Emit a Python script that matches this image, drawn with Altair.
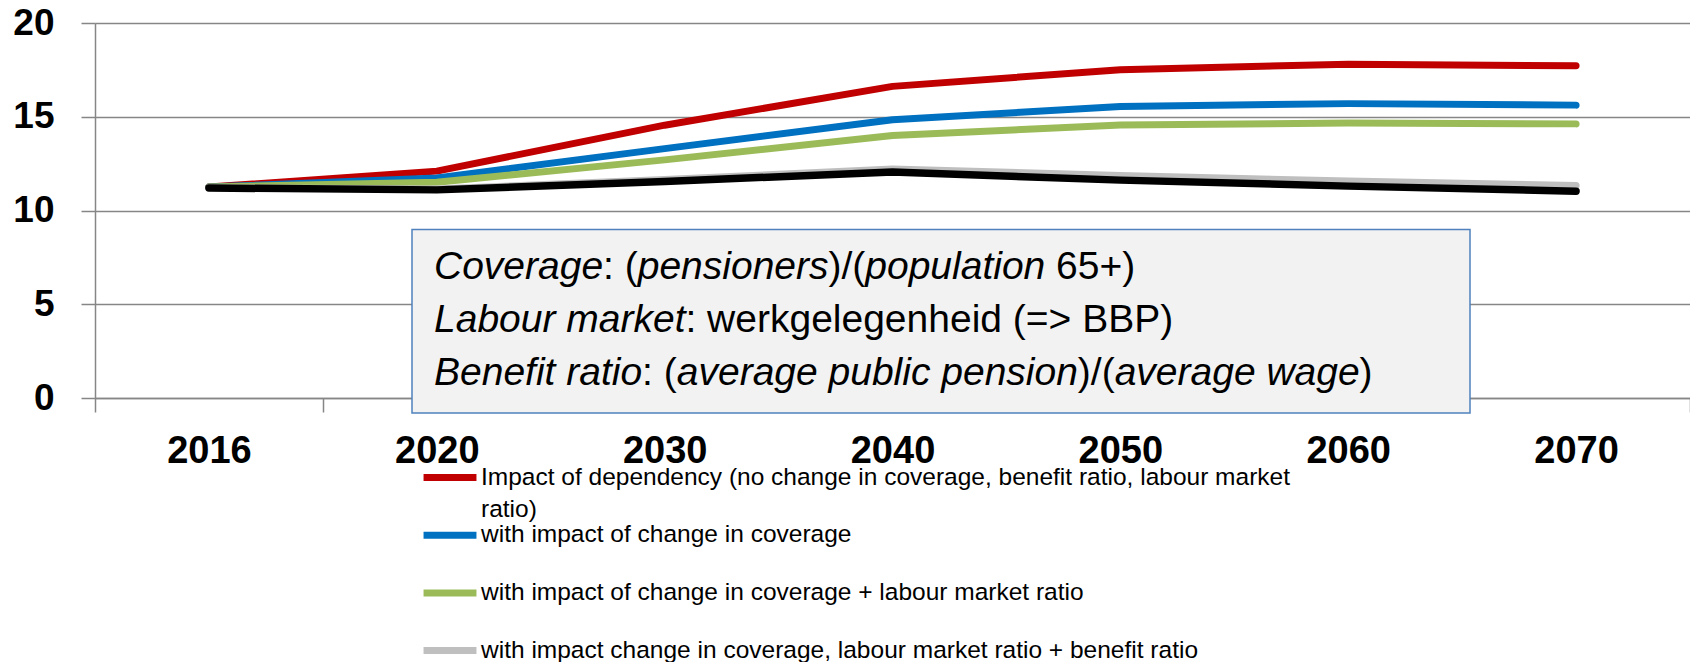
import altair as alt
import pandas as pd

# ---------------- data ----------------
years = ["2016", "2020", "2030", "2040", "2050", "2060", "2070"]

series_names = [
    "Impact of dependency (no change in coverage, benefit ratio, labour market",
    "with impact of change in coverage",
    "with impact of change in coverage + labour market ratio",
    "with impact change in coverage, labour market ratio + benefit ratio",
]
label_continuation = "ratio)"

red_vals = [11.25, 12.10, 14.55, 16.62, 17.51, 17.80, 17.72]
blue_vals = [11.25, 11.74, 13.30, 14.84, 15.55, 15.70, 15.62]
green_vals = [11.25, 11.51, 12.70, 14.00, 14.56, 14.67, 14.62]
grey_vals = [11.22, 11.15, 11.65, 12.22, 11.87, 11.57, 11.33]
black_vals = [11.20, 11.10, 11.55, 12.05, 11.62, 11.30, 11.03]

y_ticks = [0, 5, 10, 15, 20]

series_colors = ["#C00000", "#0070C0", "#9BBB59", "#BFBFBF"]
series_widths = [7, 7, 7, 4]

note_lines = [
    [("Coverage", True), (": (", False), ("pensioners", True), (")/(", False),
     ("population", True), (" 65+)", False)],
    [("Labour market", True), (": werkgelegenheid (=> BBP)", False)],
    [("Benefit ratio", True), (": (", False), ("average public pension", True),
     (")/(", False), ("average wage", True), (")", False)],
]

# ---------------- tables ----------------
rows = []
for name, vals in zip(series_names, [red_vals, blue_vals, green_vals, grey_vals]):
    for yr, v in zip(years, vals):
        rows.append({"year": yr, "value": v, "series": name})
df = pd.DataFrame(rows)
df_black = pd.DataFrame({"year": years, "value": black_vals})

FONT = "Liberation Sans"
GRID = "#868686"

# Arial / Liberation Sans advance widths (1/1000 em) for laying out mixed-style text
W = {' ': 278, '(': 333, ')': 333, '+': 584, ',': 278, '/': 278, ':': 278,
     '=': 584, '>': 584, '<': 584}
for d in "0123456789":
    W[d] = 556
W.update({'A': 667, 'B': 667, 'C': 722, 'D': 722, 'E': 667, 'F': 611, 'G': 778,
          'H': 722, 'I': 278, 'L': 556, 'M': 833, 'P': 667, 'R': 722, 'S': 667,
          'a': 556, 'b': 556, 'c': 500, 'd': 556, 'e': 556, 'f': 278, 'g': 556,
          'h': 556, 'i': 222, 'j': 222, 'k': 500, 'l': 222, 'm': 833, 'n': 556,
          'o': 556, 'p': 556, 'q': 556, 'r': 333, 's': 500, 't': 278, 'u': 556,
          'v': 500, 'w': 722, 'x': 500, 'y': 500, 'z': 500})


def text_width(s, size):
    return sum(W.get(ch, 556) for ch in s) * size / 1000.0


x_enc = alt.X(
    "year:O", sort=years,
    scale=alt.Scale(type="band", paddingInner=0, paddingOuter=0),
    axis=alt.Axis(title=None, labelAngle=0, labelFont=FONT, labelFontWeight="bold",
                  labelFontSize=38, labelColor="black", labelPadding=20,
                  tickSize=14, tickColor=GRID, tickWidth=1.5, tickBand="extent",
                  domainColor=GRID, domainWidth=1.5, grid=False),
)
y_enc = alt.Y(
    "value:Q",
    scale=alt.Scale(domain=[0, 20], nice=False, zero=True),
    axis=alt.Axis(title=None, values=y_ticks, labelFont=FONT, labelFontWeight="bold",
                  labelFontSize=37, labelColor="black", labelPadding=27,
                  tickSize=14, tickColor=GRID, tickWidth=1.5,
                  domainColor=GRID, domainWidth=1.5,
                  grid=True, gridColor=GRID, gridWidth=1.5),
)

legend = alt.Legend(
    title=None, orient="none", legendX=325, legendY=424.5, direction="vertical",
    symbolType="stroke", symbolSize=2800, symbolStrokeWidth=7,
    labelFont=FONT, labelFontSize=24.5, labelColor="black", labelLimit=1200,
    labelOffset=1, rowPadding=13.7, padding=0,
)

lines = alt.Chart(df).mark_line(strokeCap="round", strokeJoin="round").encode(
    x=x_enc,
    y=y_enc,
    color=alt.Color("series:N", sort=series_names,
                    scale=alt.Scale(domain=series_names, range=series_colors),
                    legend=legend),
    strokeWidth=alt.StrokeWidth("series:N", sort=series_names,
                                scale=alt.Scale(domain=series_names, range=series_widths),
                                legend=legend),
    order=alt.Order("year:O"),
)

black_line = alt.Chart(df_black).mark_line(
    strokeCap="round", strokeJoin="round", strokeWidth=7.5, color="black"
).encode(x=x_enc, y=y_enc)

box = alt.Chart(pd.DataFrame({"k": [0]})).mark_rect(
    fill="#F2F2F2", stroke="#4F81BD", strokeWidth=1.5
).encode(x=alt.value(317), x2=alt.value(1375), y=alt.value(206.5), y2=alt.value(390))

layers = [lines, black_line, box]

NOTE_SIZE = 39
x0 = 339
baselines = [255.5, 308.5, 361.5]
for segs, by in zip(note_lines, baselines):
    cursor = x0
    for txt, ital in segs:
        lead = len(txt) - len(txt.lstrip(" "))
        body = txt.strip(" ")
        start = cursor + text_width(" " * lead, NOTE_SIZE)
        cursor += text_width(txt, NOTE_SIZE)
        layers.append(
            alt.Chart(pd.DataFrame({"t": [body]})).mark_text(
                align="left", baseline="alphabetic", font=FONT, fontSize=NOTE_SIZE,
                fontStyle="italic" if ital else "normal", color="black"
            ).encode(text="t:N", x=alt.value(start), y=alt.value(by))
        )

layers.append(
    alt.Chart(pd.DataFrame({"t": [label_continuation]})).mark_text(
        align="left", baseline="alphabetic", font=FONT, fontSize=24.5, color="black"
    ).encode(text="t:N", x=alt.value(386), y=alt.value(493.5))
)

chart = alt.layer(*layers).properties(
    width=1595, height=375,
    padding={"left": 87, "top": 15, "right": 0, "bottom": 264},
    autosize=alt.AutoSizeParams(type="none"),
).configure_view(stroke=None).configure(background="white")

chart.save("out.html", embed_options={"renderer": "svg", "actions": False})
